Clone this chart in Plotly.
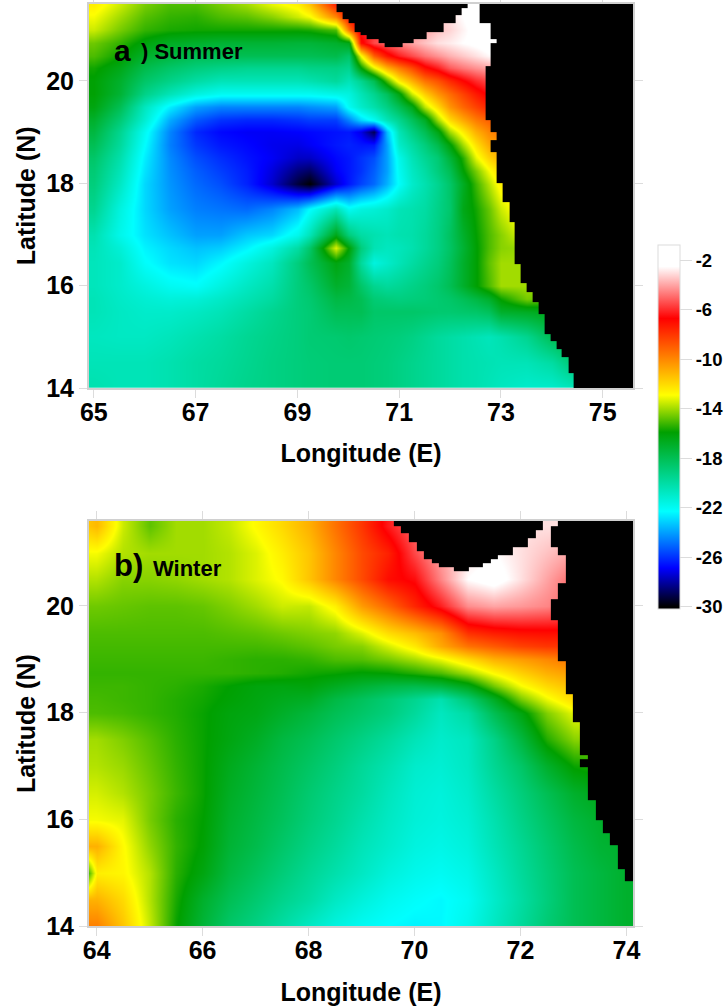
import plotly.graph_objects as go

W, H = 725, 1007
FONT = "Liberation Sans"

# ---------- panel a (Summer) ----------
a_lon = [65,65.5,66,66.5,67,67.5,68,68.5,69,69.25,69.75,70,70.25,70.5,70.75,71,71.25,71.5,71.75,72,72.25,72.5,72.75,73,73.5,74,74.5,75.6]
a_lat = [14,14.5,15,15.5,15.75,16,16.45,16.75,17,17.5,18,18.25,18.5,18.75,19,19.25,19.5,19.75,20,20.25,20.5,20.75,21,21.25,21.5]
a_140  = [-20.3,-20.5,-20.5,-20.3,-20,-19.7,-19.4,-19.2,-19,-18.9,-18.8,-18.8,-18.8,-18.9,-19,-19.2,-19.4,-19.6,-19.8,-20,-20.2,-20.3,-20.5,-20.7,-21,-21,-20.5,-20]
a_145  = [-20.5,-20.5,-20.5,-20.3,-20,-19.8,-19.5,-19.2,-19,-18.9,-18.8,-18.8,-18.8,-18.9,-19,-19.2,-19.4,-19.6,-19.8,-20,-20.2,-20.3,-20.4,-20.5,-20.5,-20,-18.5,-18.5]
a_150  = [-20.7,-20.8,-20.8,-20.6,-20.3,-20,-19.6,-19.3,-19,-18.8,-18.7,-18.6,-18.7,-18.8,-18.9,-19,-19.2,-19.5,-19.8,-20,-20.2,-20.4,-20.6,-20.3,-19.5,-18,-17,-17]
a_155  = [-20.5,-20.8,-21,-21,-20.8,-20.5,-20,-19.5,-19,-18.8,-18,-18,-18,-18.5,-18.5,-18.5,-18.5,-18.6,-18.7,-18.7,-18.6,-18.5,-18.2,-17,-16.8,-16.5,-16.5,-16.5]
a_1575 = [-20.5,-20.9,-21.2,-21.4,-21.3,-20.9,-20.4,-19.9,-19,-18.7,-17.6,-17.7,-18,-18.8,-19,-19.1,-19,-18.9,-18.7,-18.5,-18.1,-17.6,-17,-15.8,-14.5,-14.8,-15,-15]
a_160  = [-20.6,-21,-21.5,-22,-22.2,-21.5,-20.8,-20.2,-19,-18.5,-17,-17.3,-18.5,-19.5,-19.8,-19.6,-19.3,-19,-18.6,-18,-17,-16,-15,-14,-14,-14,-14,-14]
a_1645 = [-20.6,-21,-22.2,-22.8,-23,-22.4,-21.5,-20.7,-19,-18,-16.3,-17,-19.8,-21.5,-21,-20.5,-20,-19.5,-19,-18.2,-17,-16,-14.8,-14,-14,-14,-14,-14]
a_1675 = [-20.5,-21.3,-22.5,-23,-23.4,-23.2,-22.5,-21.5,-20,-18.5,-13.3,-16,-19,-20.4,-20.7,-20.6,-20.3,-19.8,-19.2,-18.4,-17.2,-16,-15,-14.3,-14,-14,-14,-14]
a_170  = [-20.3,-21.8,-22.8,-23.4,-24,-24,-23.3,-23,-21.8,-20.5,-16.5,-19,-20,-20.3,-20.5,-20.3,-20.2,-19.8,-19.2,-18.3,-17,-15.9,-15,-14.3,-13,-13,-13,-13]
a_175  = [-19.5,-21.5,-23,-24,-24.6,-24.8,-25,-24.5,-23.5,-22.3,-20.5,-22,-21.5,-21.3,-21,-20.5,-20.3,-20,-19.3,-18.6,-16.5,-15.7,-14.7,-13.5,-12,-12,-12,-12]
a_180  = [-19,-20.8,-23,-24.2,-25,-25.5,-26.3,-27.5,-29.3,-30,-27.5,-26.5,-25.7,-25,-23.7,-22.2,-21,-20.3,-19.5,-18.5,-16.8,-15.2,-13.8,-12.5,-12,-12,-12,-12]
a_1825 = [-18.8,-20.5,-22.8,-24.3,-25.2,-25.8,-26.4,-27.3,-28.5,-28.8,-27,-26.5,-26,-25.2,-24,-22,-20.8,-20,-19,-18,-16,-14.5,-13,-12,-12,-12,-12,-12]
a_185  = [-18.5,-20.2,-22.6,-24.4,-25.5,-26.1,-26.6,-27,-27.6,-27.6,-26.8,-26.5,-26,-25.5,-24,-21.8,-20.5,-19.6,-18.8,-17.3,-15.5,-13.2,-11.8,-11,-11,-11,-11,-11]
a_1875 = [-18,-19.8,-22.3,-24.6,-25.9,-26.5,-26.8,-27.1,-27.2,-27,-26.5,-26.3,-26.5,-26.5,-24,-21,-20,-19,-17.8,-16.1,-14,-12.2,-10.8,-10.5,-10.5,-10.5,-10.5,-10.5]
a_190  = [-17.5,-19.5,-22,-24.5,-26.2,-26.8,-27,-27,-26.9,-26.8,-26.6,-26.5,-27.2,-29,-23.5,-20.5,-19.2,-18,-16.4,-14,-12.5,-11,-10,-9.5,-9,-9,-9,-9]
a_1925 = [-17,-18.8,-21.2,-23.8,-25.3,-26,-26.2,-26.2,-26,-25.8,-25.8,-24.5,-23,-22,-20.5,-19.5,-18.2,-16.8,-14,-12,-10.8,-9.7,-9,-8.5,-8,-8,-8,-8]
a_195  = [-16.3,-18,-20.7,-22.6,-24,-24.5,-24.5,-24.5,-24.5,-24.3,-24,-22,-21,-20.2,-19.2,-18,-16.5,-13.7,-12,-10.3,-9.2,-8.3,-7.5,-7,-6.5,-6.5,-6.5,-6.5]
a_1975 = [-16,-17.2,-19.3,-20.5,-21.5,-22,-22,-22,-22,-22,-21.7,-21.5,-20.5,-19.5,-18.2,-16.3,-13.5,-11.7,-10.3,-9.3,-8.3,-7.3,-6.5,-6,-6,-6,-6,-6]
a_200  = [-16,-17,-18.5,-19.3,-20,-20.5,-20.5,-20.5,-20.5,-20.3,-19.8,-20.5,-19.5,-18,-15,-12.5,-11,-9.5,-8.7,-7.7,-6.8,-6,-5.5,-5,-5,-5,-5,-5]
a_2025 = [-15.7,-16.5,-17.8,-18.5,-19,-19.3,-19.5,-19.5,-19.5,-19.3,-19.2,-19.5,-16,-13.2,-11,-9.7,-8.5,-7,-6.2,-5.2,-4.7,-4.3,-4,-4,-4,-4,-4,-4]
a_205  = [-15,-15.8,-17,-17.5,-18,-18,-18,-18,-18,-18,-17.8,-18.5,-13,-9,-7.2,-6.2,-5.5,-4.8,-4.3,-3.8,-3.4,-3,-2.6,-2.5,-2.5,-2.5,-2.5,-2.5]
a_2075 = [-14.6,-15.3,-16.2,-16.8,-17,-17.2,-17.2,-17.2,-17.3,-17.3,-17,-16.5,-7,-5.5,-5,-4.5,-4,-3.5,-3,-2.8,-2.5,-2.3,-2,-2,-2,-2,-2,-2]
a_210  = [-13.5,-14.5,-15.3,-15.6,-15.7,-15.7,-15.7,-15.7,-15.7,-15.6,-15,-9.5,-6.2,-5.8,-5.3,-5,-4.5,-4,-3.5,-3.2,-2.7,-2.2,-2,-2,-2,-2,-2,-2]
a_2125 = [-13,-14,-14.9,-15.3,-15.4,-15,-14.8,-14.3,-13.5,-13,-10,-7,-5.8,-5.3,-5,-4.7,-4.4,-4,-3.5,-3,-2.5,-2,-2,-2,-2,-2,-2,-2]
a_215  = [-12.5,-13.5,-14.5,-15,-15,-14.5,-14,-13.2,-12.6,-11.5,-7.5,-6.5,-5.5,-5,-4.7,-4.5,-4.3,-4,-3.5,-3,-2.5,-2,-2,-2,-2,-2,-2,-2]
a_z = [a_140,a_145,a_150,a_155,a_1575,a_160,a_1645,a_1675,a_170,a_175,a_180,a_1825,a_185,a_1875,a_190,a_1925,a_195,a_1975,a_200,a_2025,a_205,a_2075,a_210,a_2125,a_215]

# land outline of panel a: row edges (N to S), start of eastern land, gulf land west/east limits
a_land_lat = [21.6,21.43,21.35,21.28,21.21,21.13,20.96,20.89,20.81,20.74,20.66,20.29,19.24,19.0,18.85,18.61,18.01,17.64,17.24,16.42,16.05,15.88,15.67,15.44,15.06,14.92,14.76,14.61,14.30,14.0]
a_land_east = [72.58,72.58,72.58,72.58,72.58,72.80,72.80,72.80,72.92,72.80,72.80,72.70,72.80,72.92,72.80,72.92,73.04,73.16,73.27,73.39,73.51,73.63,73.73,73.85,73.97,74.09,74.20,74.32,74.43]
a_gulf_w = [69.77,69.77,69.89,69.89,70.01,70.13,70.24,70.36,70.60,70.72]
a_gulf_e = [72.34,72.22,72.22,72.11,72.11,71.88,71.53,71.53,71.29,71.07]

# ---------- panel b (Winter) ----------
b_lon = [63.85,64,64.5,65,65.5,66,66.5,67,67.5,68,68.5,69,69.5,70,70.5,71,71.5,72,72.5,73,73.5,74]
b_lat = [14,14.5,15,15.5,16,16.5,17,17.5,18,18.25,18.5,18.75,19,19.25,19.5,20,20.5,21,21.5]
b_140  = [-9.8,-9.8,-11.5,-13.6,-15.8,-17.3,-18.5,-19.2,-20,-20.8,-21.5,-22,-22.3,-22.5,-22.4,-21.8,-20.8,-19.8,-18.8,-18,-17.5,-17]
b_145  = [-11,-11,-12,-13.8,-15.6,-17,-18,-18.7,-19.4,-20,-20.8,-21.4,-21.9,-22.2,-22.4,-22,-21,-20,-19,-18,-17.5,-17]
b_150  = [-15,-12.5,-12.7,-13.8,-15.4,-16.3,-17.5,-18.2,-18.9,-19.6,-20.2,-20.8,-21.4,-21.8,-22,-21.7,-20.8,-19.8,-18.9,-18,-17.5,-17]
b_155  = [-11,-11,-12.8,-14.2,-15.3,-16,-17.2,-17.8,-18.5,-19.2,-19.8,-20.5,-21,-21.5,-21.7,-21.4,-20.5,-19.6,-18.7,-17.8,-17.2,-17]
b_160  = [-13,-13,-13.2,-14.5,-15.4,-15.9,-17,-17.6,-18.2,-18.9,-19.5,-20.2,-20.8,-21.3,-21.5,-21.2,-20.3,-19.3,-18.4,-17.5,-17,-16.5]
b_165  = [-13.4,-13.4,-13.8,-14.5,-15.2,-15.8,-16.8,-17.4,-18,-18.7,-19.3,-19.9,-20.6,-21.2,-21.4,-21,-20,-19,-18,-17,-16.5,-16]
b_170  = [-13.8,-13.8,-14.1,-14.7,-15.3,-15.8,-16.6,-17.2,-17.8,-18.4,-19,-19.7,-20.3,-21,-21.2,-20.8,-19.6,-18.5,-17,-15.8,-15.5,-15.5]
b_175  = [-14,-14,-14.4,-14.9,-15.4,-15.8,-16.3,-16.8,-17.5,-18,-18.6,-19.2,-19.8,-20.5,-21,-20.7,-19.3,-17.5,-15.5,-14.3,-14,-14]
b_180  = [-15,-15,-15.1,-15.3,-15.5,-15.8,-16.2,-16.4,-16.9,-17.4,-18,-18.5,-19,-19.8,-20.7,-20,-18,-16.3,-14.4,-13.2,-13,-13]
b_1825 = [-15.1,-15.1,-15.2,-15.3,-15.5,-15.7,-16,-16.3,-16.6,-16.8,-17.6,-18.2,-18.8,-19.5,-20.3,-18.8,-16.8,-14.5,-13.1,-12,-12,-12]
b_185  = [-15.2,-15.2,-15.2,-15.3,-15.4,-15.6,-15.9,-16.2,-16.3,-16.2,-16.7,-17.2,-17.6,-17.8,-17.5,-16.5,-14.6,-13,-12,-11.3,-11,-11]
b_1875 = [-15.3,-15.3,-15.3,-15.3,-15.3,-15.3,-15.3,-15.4,-15.5,-15.7,-15.8,-16,-15.9,-15.5,-15,-14,-12.8,-11.8,-11,-10.5,-10.5,-10.5]
b_190  = [-15.2,-15.2,-15.2,-15.2,-15.2,-15.2,-15.3,-15.4,-15.4,-15.3,-15,-14.9,-14.5,-13.9,-13.1,-12,-11,-10.5,-10,-9.5,-9.5,-9.5]
b_1925 = [-15.1,-15.1,-15.1,-15.1,-15.1,-15.1,-15.1,-15.1,-15,-14.8,-14.5,-14.3,-13.4,-12.4,-10.8,-9.5,-8.9,-8.3,-8,-8,-8,-8]
b_195  = [-15,-15,-15,-15,-15,-15,-14.9,-14.8,-14.6,-14.4,-14.2,-13.3,-12.1,-11.3,-10.2,-7.9,-7.4,-7.1,-7,-7,-7,-7]
b_200  = [-14.6,-14.6,-14.7,-14.8,-14.8,-14.7,-14.4,-14,-13.5,-13.6,-12.6,-10.5,-9.2,-7.6,-6.2,-4.4,-4,-4.2,-4.5,-5,-5,-5]
b_205  = [-13.8,-13.8,-14.3,-14.3,-14.2,-14,-13.8,-13.3,-12.8,-11.5,-10,-8.5,-7,-6.5,-4.5,-2.5,-2,-3,-4,-5,-5,-5]
b_210  = [-13,-13,-13.8,-14,-14,-14,-13.8,-13.3,-12.5,-11.5,-10,-8.5,-7.5,-5.5,-4,-3,-2.5,-3,-3.5,-4,-4,-4]
b_215  = [-11.5,-11.2,-13.5,-14.8,-14,-14,-13.6,-12.8,-12,-11,-9.5,-8,-6.3,-5,-4.5,-4,-3.5,-3,-3,-3,-3,-3]
b_z = [b_140,b_145,b_150,b_155,b_160,b_165,b_170,b_175,b_180,b_1825,b_185,b_1875,b_190,b_1925,b_195,b_200,b_205,b_210,b_215]

b_land_lat = [21.7,21.50,21.42,21.36,21.27,21.20,21.11,21.03,20.95,20.88,20.80,20.72,20.65,20.42,20.12,19.74,18.97,18.35,17.82,17.21,17.13,16.98,16.37,15.99,15.75,15.52,15.07,14.84,14.0]
b_land_east = [72.71,72.57,72.57,72.57,72.57,72.57,72.71,72.71,72.85,72.85,72.85,72.85,72.85,72.71,72.57,72.71,72.85,72.99,73.13,73.28,73.13,73.28,73.42,73.55,73.69,73.84,73.97,74.2]
b_gulf_w = [69.61,69.75,69.75,69.90,69.90,70.04,70.04,70.18,70.18,70.33,70.46,70.75]
b_gulf_e = [72.43,72.43,72.29,72.29,72.14,72.14,71.86,71.86,71.58,71.44,71.29,71.02]

z_min, z_max = -30.2, -0.76
cbar_ticks = [-2,-6,-10,-14,-18,-22,-26,-30]
cbar_stops = [(-30.2,"#000000"),(-30,"#000000"),(-26.9,"#0000ff"),(-22.3,"#00ffff"),(-15.9,"#00a000"),(-12.9,"#ffff00"),(-6.7,"#ff0000"),(-2.5,"#ffffff"),(-0.76,"#ffffff")]
colorscale = [[(v - z_min) / (z_max - z_min), c] for v, c in cbar_stops]

def land_mask(lat_edges, east, gulf_w, gulf_e, lon_end):
    """Build a staircase land mask from the coast lists."""
    xs = sorted(set(east) | set(gulf_w) | set(gulf_e) | {lon_end})
    xs = [x for x in xs if x <= lon_end]
    rows = []
    for i, e in enumerate(east):
        row = []
        for x0 in xs[:-1]:
            is_land = x0 >= e
            if i < len(gulf_w) and gulf_w[i] <= x0 < gulf_e[i]:
                is_land = True
            row.append(1 if is_land else None)
        rows.append(row)
    return xs, lat_edges[::-1], rows[::-1]

def px_x(px): return px / W
def px_y(px): return 1 - px / H

fig = go.Figure()
fig.add_trace(go.Heatmap(x=a_lon, y=a_lat, z=a_z, zsmooth="best", zmin=z_min, zmax=z_max, colorscale=colorscale,
    xaxis="x", yaxis="y", hoverinfo="skip", showscale=True,
    colorbar=dict(x=657.5/W, xanchor="left", xpad=0, y=px_y(245), yanchor="top", ypad=0,
                  lenmode="pixels", len=364.3, thicknessmode="pixels", thickness=22,
                  tickmode="array", tickvals=cbar_ticks, ticktext=[str(t) for t in cbar_ticks],
                  ticks="outside", ticklen=12, tickcolor="#dcdcdc", tickwidth=1,
                  outlinecolor="#dcdcdc", outlinewidth=1,
                  tickfont=dict(family=FONT, size=18.5, color="#000", weight="bold"))))
fig.add_trace(go.Heatmap(x=b_lon, y=b_lat, z=b_z, zsmooth="best", zmin=z_min, zmax=z_max, colorscale=colorscale,
    xaxis="x2", yaxis="y2", hoverinfo="skip", showscale=False))

for ax, ay, land in (("x", "y", (a_land_lat, a_land_east, a_gulf_w, a_gulf_e, 75.7)),
                     ("x2", "y2", (b_land_lat, b_land_east, b_gulf_w, b_gulf_e, 74.2))):
    xs, ys, zz = land_mask(*land)
    fig.add_trace(go.Heatmap(x=xs, y=ys, z=zz, zmin=0, zmax=1, colorscale=[[0,"#000"],[1,"#000"]],
                             showscale=False, xaxis=ax, yaxis=ay, hoverinfo="skip"))

axis_common = dict(ticks="outside", ticklen=8, tickcolor="#dcdcdc", tickwidth=1, showline=True,
                   linecolor="#d0d0d0", linewidth=1.5, mirror="ticks", showgrid=False, zeroline=False,
                   tickfont=dict(family=FONT, size=25, color="#000", weight="bold"))
title_font = dict(family=FONT, size=25, color="#000", weight="bold")

fig.update_layout(
    width=W, height=H, margin=dict(l=0, r=0, t=0, b=0, pad=0, autoexpand=False), paper_bgcolor="#fff", plot_bgcolor="#fff",
    showlegend=False,
    xaxis=dict(domain=[px_x(88.7), px_x(633.3)], range=[64.9, 75.6], anchor="y", ticklabelstandoff=-7,
               tickvals=[65,67,69,71,73,75], title=dict(text="Longitude (E)", font=title_font, standoff=20), **axis_common),
    yaxis=dict(domain=[px_y(388), px_y(3.7)], range=[14, 21.51], anchor="x",
               tickvals=[14,16,18,20], title=dict(text="Latitude (N)", font=title_font, standoff=3), **axis_common),
    xaxis2=dict(domain=[px_x(88.7), px_x(633.3)], range=[63.85, 74.13], anchor="y2", ticklabelstandoff=-7,
                tickvals=[64,66,68,70,72,74], title=dict(text="Longitude (E)", font=title_font, standoff=20), **axis_common),
    yaxis2=dict(domain=[px_y(926.3), px_y(521)], range=[14, 21.59], anchor="x2",
                tickvals=[14,16,18,20], title=dict(text="Latitude (N)", font=title_font, standoff=3), **axis_common),
    annotations=[
        dict(text="a", x=px_x(112), y=px_y(50), xref="paper", yref="paper", xanchor="left", yanchor="middle", showarrow=False,
             font=dict(family=FONT, size=30, color="#000", weight="bold")),
        dict(text=") Summer", x=px_x(139), y=px_y(51), xref="paper", yref="paper", xanchor="left", yanchor="middle", showarrow=False,
             font=dict(family=FONT, size=22, color="#000", weight="bold")),
        dict(text="b)", x=px_x(112), y=px_y(565), xref="paper", yref="paper", xanchor="left", yanchor="middle", showarrow=False,
             font=dict(family=FONT, size=31, color="#000", weight="bold")),
        dict(text="Winter", x=px_x(151), y=px_y(568), xref="paper", yref="paper", xanchor="left", yanchor="middle", showarrow=False,
             font=dict(family=FONT, size=22, color="#000", weight="bold")),
    ],
)
fig.write_html("out.html", config={"displayModeBar": False},
               post_script="document.body.style.margin='0';window.dispatchEvent(new Event('resize'));")
